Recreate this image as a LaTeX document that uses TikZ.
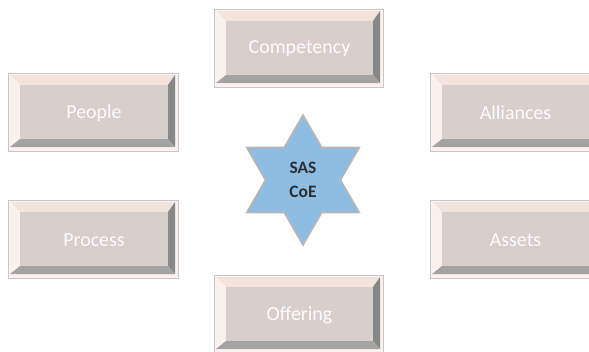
\documentclass[tikz,border=0pt]{standalone}
\usepackage{fontspec}
\setmainfont{Carlito}
\usetikzlibrary{shapes.geometric}
\definecolor{facegray}{HTML}{D8CECC}
\definecolor{rimpink}{HTML}{FBF2EF}
\definecolor{toppink}{HTML}{F3E3DD}
\definecolor{leftpink}{HTML}{FAF0EC}
\definecolor{rightgray}{HTML}{878787}
\definecolor{bottomgray}{HTML}{A3A3A3}
\definecolor{labelwhite}{HTML}{FDFBFB}
\definecolor{starblue}{HTML}{8EBDE3}
\definecolor{starrim}{HTML}{BDB5B5}
\definecolor{startext}{HTML}{2E2E2E}
\def\bevelbox(#1,#2)(#3,#4)#5#6{%
	\draw[fill=rimpink, draw=black!22, line width=0.6] (#1,#2) rectangle (#3,#4);
	\fill[toppink] ({#1+2},{#2+2}) -- ({#3-3},{#2+2}) -- ({#3-10},{#2+12}) -- ({#1+12},{#2+12}) -- cycle;
	\fill[leftpink] ({#1+2},{#2+2}) -- ({#1+12},{#2+12}) -- ({#1+12},{#4-12}) -- ({#1+2},{#4-4}) -- cycle;
	\fill[rightgray] ({#3-3},{#2+2}) -- ({#3-3},{#4-4}) -- ({#3-10},{#4-12}) -- ({#3-10},{#2+12}) -- cycle;
	\fill[bottomgray] ({#1+2},{#4-4}) -- ({#1+12},{#4-12}) -- ({#3-10},{#4-12}) -- ({#3-3},{#4-4}) -- cycle;
	\fill[facegray] ({#1+12},{#2+12}) rectangle ({#3-10},{#4-12});
	\node[boxlabel] (#5) at ({(#1+#3)/2+1},{(#2+#4)/2+1}) {#6};
}

\begin{document}
\begin{tikzpicture}[x=1bp, y=-1bp,
		boxlabel/.style={inner sep=0, text=labelwhite, font=\fontsize{20}{24}\selectfont},
		hexstar/.style={star, star points=6, star point ratio=1.732, minimum size=130bp,
			inner sep=0, fill=starblue, draw=starrim, line width=1.6bp, align=center,
			text=startext, font=\fontsize{17.5}{24}\selectfont\bfseries}]
	%%%%% START %%%%%
	
	\path[use as bounding box, clip] (0,0) rectangle (589,351);
	
	\bevelbox(214,9)(383,87){competency}{Competency}
	
	\bevelbox(8,73)(178,151){people}{People}
	\bevelbox(430,73)(599,151){alliances}{Alliances}
	
	\bevelbox(8,200)(178,278){process}{Process}
	\bevelbox(430,200)(599,278){assets}{Assets}
	
	\bevelbox(214,275)(383,353){offering}{Offering}
	
	\node[hexstar] (coe) at (303,180) {SAS\\CoE};
	
	%%%%% END %%%%%
\end{tikzpicture}
\end{document}
